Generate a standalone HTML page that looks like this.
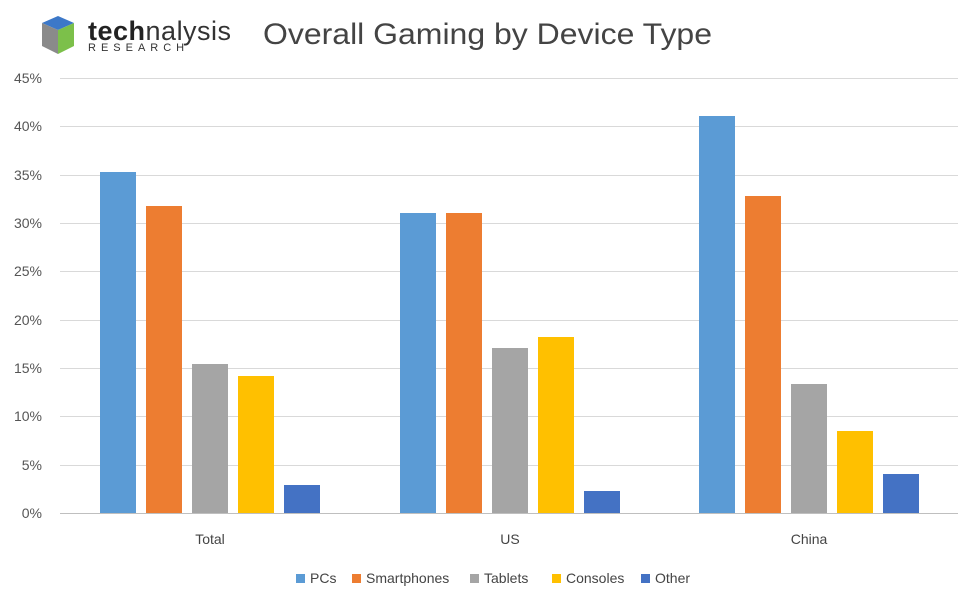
<!DOCTYPE html><html><head><style>body{margin:0;background:#fff}</style></head><body>
<svg width="978" height="608" xmlns="http://www.w3.org/2000/svg" font-family="Liberation Sans, sans-serif">
<rect width="978" height="608" fill="#fff"/>
<g transform="translate(42,16)">
<polygon points="16,0 32,7 16,14 0,7" fill="#3c78c8"/>
<polygon points="0,7 16,14 16,38 0,30" fill="#8a8a8a"/>
<polygon points="16,14 32,7 32,30 16,38" fill="#7cc04a"/>
</g>
<text x="88" y="40" font-size="27" fill="#222" font-weight="bold" letter-spacing="0.5">tech<tspan font-weight="normal" fill="#333">nalysis</tspan></text>
<text x="88" y="51" font-size="11" fill="#333" letter-spacing="5">RESEARCH</text>
<text x="263" y="44" font-size="30" fill="#444" textLength="449" lengthAdjust="spacingAndGlyphs">Overall Gaming by Device Type</text>
<g stroke="#d9d9d9" stroke-width="1">
<line x1="60" x2="958" y1="78.5" y2="78.5"/><line x1="60" x2="958" y1="126.5" y2="126.5"/><line x1="60" x2="958" y1="175.5" y2="175.5"/><line x1="60" x2="958" y1="223.5" y2="223.5"/><line x1="60" x2="958" y1="271.5" y2="271.5"/><line x1="60" x2="958" y1="320.5" y2="320.5"/><line x1="60" x2="958" y1="368.5" y2="368.5"/><line x1="60" x2="958" y1="416.5" y2="416.5"/><line x1="60" x2="958" y1="465.5" y2="465.5"/>
</g>
<line x1="60" x2="958" y1="513.5" y2="513.5" stroke="#bfbfbf"/>
<g font-size="14" fill="#555" text-anchor="end">
<text x="42" y="83">45%</text><text x="42" y="131">40%</text><text x="42" y="180">35%</text><text x="42" y="228">30%</text><text x="42" y="276">25%</text><text x="42" y="325">20%</text><text x="42" y="373">15%</text><text x="42" y="421">10%</text><text x="42" y="470">5%</text><text x="42" y="518">0%</text>
</g>
<g>
<rect x="100" y="172" width="36" height="341" fill="#5b9bd5"/><rect x="146" y="206" width="36" height="307" fill="#ed7d31"/><rect x="192" y="364" width="36" height="149" fill="#a5a5a5"/><rect x="238" y="376" width="36" height="137" fill="#ffc000"/><rect x="284" y="485" width="36" height="28" fill="#4472c4"/>
<rect x="400" y="213" width="36" height="300" fill="#5b9bd5"/><rect x="446" y="213" width="36" height="300" fill="#ed7d31"/><rect x="492" y="348" width="36" height="165" fill="#a5a5a5"/><rect x="538" y="337" width="36" height="176" fill="#ffc000"/><rect x="584" y="491" width="36" height="22" fill="#4472c4"/>
<rect x="699" y="116" width="36" height="397" fill="#5b9bd5"/><rect x="745" y="196" width="36" height="317" fill="#ed7d31"/><rect x="791" y="384" width="36" height="129" fill="#a5a5a5"/><rect x="837" y="431" width="36" height="82" fill="#ffc000"/><rect x="883" y="474" width="36" height="39" fill="#4472c4"/>
</g>
<g font-size="14" fill="#444" text-anchor="middle">
<text x="210" y="544">Total</text><text x="510" y="544">US</text><text x="809" y="544">China</text>
</g>
<g font-size="14" fill="#444">
<rect x="296" y="574" width="9" height="9" fill="#5b9bd5"/><text x="310" y="583">PCs</text>
<rect x="352" y="574" width="9" height="9" fill="#ed7d31"/><text x="366" y="583">Smartphones</text>
<rect x="470" y="574" width="9" height="9" fill="#a5a5a5"/><text x="484" y="583">Tablets</text>
<rect x="552" y="574" width="9" height="9" fill="#ffc000"/><text x="566" y="583">Consoles</text>
<rect x="641" y="574" width="9" height="9" fill="#4472c4"/><text x="655" y="583">Other</text>
</g>
</svg></body></html>
